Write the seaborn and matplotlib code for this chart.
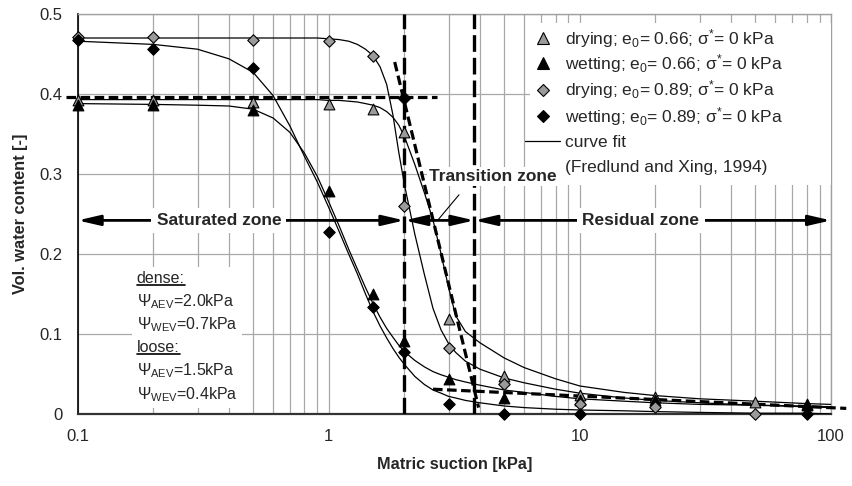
import numpy as np
import pandas as pd
import matplotlib
matplotlib.use("Agg")
import matplotlib.pyplot as plt
from matplotlib.lines import Line2D
from matplotlib.patches import Rectangle
import seaborn as sns

# ---- measured points (matric suction in kPa, volumetric water content) ----
suction = [0.1, 0.2, 0.5, 1, 1.5, 2, 3, 5, 10, 20, 50, 80]
drying_066 = [0.392, 0.392, 0.390, 0.387, 0.381, 0.352, 0.119, 0.047, 0.024, 0.021, 0.015, 0.012]
wetting_066 = [0.386, 0.386, 0.380, 0.279, 0.150, 0.091, 0.044, 0.020, 0.018, 0.018, np.nan, 0.011]
drying_089 = [0.471, 0.471, 0.4675, 0.466, 0.4475, 0.260, 0.083, 0.037, 0.013, 0.009, 0.0, np.nan]
wetting_089 = [0.467, 0.456, 0.432, 0.228, 0.134, 0.078, 0.013, 0.0, 0.0, np.nan, np.nan, 0.0]

# ---- Fredlund & Xing (1994) fitted curves ----
fit_suction = [0.1, 0.2, 0.3, 0.4, 0.5, 0.6, 0.7, 0.8, 0.9, 1.0, 1.1, 1.2, 1.3, 1.4,
               1.5, 1.6, 1.7, 1.8, 1.9, 2.0, 2.2, 2.4, 2.6, 2.8, 3.0, 3.2, 3.5, 4,
               5, 6, 8, 10, 15, 20, 30, 50, 80, 100]
fit_drying_066 = [0.393, 0.393, 0.393, 0.393, 0.393, 0.393, 0.393, 0.393, 0.393, 0.392,
                  0.392, 0.391, 0.390, 0.388, 0.386, 0.383, 0.378, 0.371, 0.361, 0.347,
                  0.312, 0.277, 0.2425, 0.200, 0.158, 0.123, 0.103, 0.089, 0.070, 0.058,
                  0.044, 0.035, 0.027, 0.023, 0.019, 0.016, 0.013, 0.012]
fit_wetting_066 = [0.388, 0.387, 0.386, 0.385, 0.381, 0.370, 0.352, 0.326, 0.297, 0.265,
                   0.235, 0.206, 0.181, 0.158, 0.138, 0.121, 0.107, 0.096, 0.086, 0.078,
                   0.067, 0.059, 0.053, 0.049, 0.046, 0.043, 0.040, 0.036, 0.030, 0.027,
                   0.022, 0.019, 0.016, 0.014, 0.012, 0.011, 0.010, 0.009]
fit_drying_089 = [0.470, 0.470, 0.470, 0.470, 0.470, 0.470, 0.470, 0.470, 0.470, 0.469,
                  0.468, 0.466, 0.462, 0.456, 0.448, 0.434, 0.412, 0.374, 0.327, 0.287,
                  0.225, 0.175, 0.132, 0.105, 0.088, 0.077, 0.066, 0.056, 0.045, 0.039,
                  0.031, 0.026, 0.020, 0.017, 0.014, 0.011, 0.009, 0.008]
fit_wetting_089 = [0.466, 0.462, 0.456, 0.444, 0.427, 0.398, 0.360, 0.322, 0.290, 0.258,
                   0.228, 0.200, 0.175, 0.150, 0.128, 0.110, 0.095, 0.082, 0.071, 0.062,
                   0.047, 0.037, 0.030, 0.026, 0.022, 0.020, 0.017, 0.014, 0.010, 0.008,
                   0.006, 0.005, 0.004, 0.003, 0.002, 0.001, 0.001, 0.0]

# ---- graphical construction (AEV / residual lines, zone limits) ----
aev_x = [0.09, 2.7]
aev_y = [0.396, 0.396]
tangent_x = [1.83, 3.95]
tangent_y = [0.440, 0.008]
residual_x = [2.6, 115]
residual_y = [0.031, 0.007]
aev_point = (2.0, 0.395)
zone_limits = [2.0, 3.8]
zone_arrow_level = 0.242

legend_labels = [
    "drying; e$_0$= 0.66; σ$^{*}$= 0 kPa",
    "wetting; e$_0$= 0.66; σ$^{*}$= 0 kPa",
    "drying; e$_0$= 0.89; σ$^{*}$= 0 kPa",
    "wetting; e$_0$= 0.89; σ$^{*}$= 0 kPa",
    "curve fit",
    "(Fredlund and Xing, 1994)",
]
param_lines = ["dense:", "Ψ$_{\\mathrm{AEV}}$=2.0kPa", "Ψ$_{\\mathrm{WEV}}$=0.7kPa",
               "loose:", "Ψ$_{\\mathrm{AEV}}$=1.5kPa", "Ψ$_{\\mathrm{WEV}}$=0.4kPa"]
param_levels = [0.175, 0.146, 0.1175, 0.089, 0.059, 0.030]

sns.set_style("white")
plt.rcParams["font.family"] = ["Liberation Sans", "DejaVu Sans"]
plt.rcParams["mathtext.fontset"] = "custom"
plt.rcParams["mathtext.rm"] = "Liberation Sans"
plt.rcParams["mathtext.it"] = "Liberation Sans:italic"
plt.rcParams["mathtext.bf"] = "Liberation Sans:bold"

GRAY = "#9a9a9a"
GRID = "#a8a8a8"
FS_TEXT = 12.5
FS_TICK = 12
FS_LABEL = 11.8
FS_PARAM = 11.5
W, H = 853, 486

fig = plt.figure(figsize=(W / 100, H / 100), dpi=100)
AX_L, AX_R, AX_T, AX_B = 77.7, 831.0, 14.0, 414.0
ax = fig.add_axes([AX_L / W, 1 - AX_B / H, (AX_R - AX_L) / W, (AX_B - AX_T) / H])
ax.set_xscale("log")
ax.set_xlim(0.1, 100)
ax.set_ylim(0, 0.5)


def px(xp, yp):
    """Pixel position inside the figure -> axes fraction."""
    return (xp - AX_L) / (AX_R - AX_L), (AX_B - yp) / (AX_B - AX_T)


# grid
ax.set_yticks([0, 0.1, 0.2, 0.3, 0.4, 0.5])
ax.set_yticklabels(["0", "0.1", "0.2", "0.3", "0.4", "0.5"])
ax.set_xticks([0.1, 1, 10, 100])
ax.set_xticklabels(["0.1", "1", "10", "100"])
ax.xaxis.set_minor_locator(matplotlib.ticker.LogLocator(base=10, subs=np.arange(2, 10)))
ax.xaxis.set_minor_formatter(matplotlib.ticker.NullFormatter())
ax.grid(True, which="both", axis="x", color=GRID, lw=0.9, zorder=0)
ax.grid(True, which="major", axis="y", color=GRID, lw=0.9, zorder=0)
ax.set_axisbelow(True)
ax.tick_params(axis="both", which="major", direction="out", length=5, width=1,
               color="k", labelsize=FS_TICK, pad=6)
ax.tick_params(axis="x", which="minor", length=0)
for side in ("top", "right"):
    ax.spines[side].set_color("#a0a0a0")
    ax.spines[side].set_linewidth(1)
ax.spines["left"].set_color("k")
ax.spines["left"].set_linewidth(1.2)
ax.spines["bottom"].set_color("#333333")
ax.spines["bottom"].set_linewidth(1.6)

# fitted curves
for ys in (fit_drying_066, fit_wetting_066, fit_drying_089, fit_wetting_089):
    sns.lineplot(x=fit_suction, y=ys, color="k", lw=0.9, estimator=None,
                 sort=False, ax=ax, zorder=3)

# construction lines
ax.plot(aev_x, aev_y, color="k", lw=2.3, dashes=(3, 1.4), zorder=4, clip_on=False)
ax.plot(tangent_x, tangent_y, color="k", lw=2.3, dashes=(3, 1.4), zorder=4)
ax.plot(residual_x, residual_y, color="k", lw=2.3, dashes=(3, 1.4), zorder=4, clip_on=False)
for xv in zone_limits:
    ax.plot([xv, xv], [0, 0.5], color="k", lw=2.4, dashes=(5, 1.8), zorder=4)
ax.plot([aev_point[0]], [aev_point[1]], marker="D", ms=6.5, color="k", zorder=6)

# measured points
series = [
    (drying_066, "^", GRAY, 60),
    (wetting_066, "^", "k", 60),
    (drying_089, "D", GRAY, 34),
    (wetting_089, "D", "k", 34),
]
for vals, mk, col, size in series:
    df = pd.DataFrame({"s": suction, "w": vals}).dropna()
    sns.scatterplot(data=df, x="s", y="w", marker=mk, color=col, edgecolor="k",
                    linewidth=0.8, s=size, ax=ax, zorder=7, clip_on=False)

# zone arrows
arrow_kw = dict(arrowstyle="<|-|>,head_length=0.95,head_width=0.22", lw=2,
                color="k", shrinkA=0, shrinkB=0, mutation_scale=14)
bounds = [0.1, zone_limits[0], zone_limits[1], 100]
for a, b in zip(bounds[:-1], bounds[1:]):
    ax.annotate("", xy=(b, zone_arrow_level), xytext=(a, zone_arrow_level),
                arrowprops=arrow_kw, zorder=5, annotation_clip=False)

box = dict(boxstyle="square,pad=0.3", fc="white", ec="none")
ax.text(0.365, zone_arrow_level, "Saturated zone", fontsize=FS_TEXT, fontweight="bold",
        ha="center", va="center", bbox=box, zorder=6)
ax.text(17.5, zone_arrow_level, "Residual zone", fontsize=FS_TEXT, fontweight="bold",
        ha="center", va="center", bbox=box, zorder=6)
ax.text(4.5, 0.297, "Transition zone", fontsize=FS_TEXT, fontweight="bold",
        ha="center", va="center", bbox=dict(boxstyle="square,pad=0.12", fc="white", ec="none"),
        zorder=10)
ax.plot([2.72, 3.3], [0.2425, 0.274], color="k", lw=0.8, zorder=6)

# parameter box
param_texts = []
for label, yv in zip(param_lines, param_levels):
    t = ax.text(0.172, yv - 0.011, label, fontsize=FS_PARAM, ha="left", va="baseline", zorder=6)
    param_texts.append(t)

# legend panel (white block in the upper right corner)
lx0, ly0 = px(530, 185)
lx1, ly1 = px(831, 23)
ax.add_patch(Rectangle((lx0, ly0), lx1 - lx0, ly1 - ly0, transform=ax.transAxes,
                       fc="white", ec="none", zorder=8))
legend_rows = [38.5, 63.5, 90.0, 116.5, 141.5, 166.5]
legend_markers = [("^", GRAY, 8.5), ("^", "k", 8.5), ("D", GRAY, 6.5), ("D", "k", 6.5)]
for row, (mk, col, ms) in zip(legend_rows, legend_markers):
    mx, my = px(543, row)
    ax.plot([mx], [my], marker=mk, ls="none", mfc=col, mec="k", mew=0.8, ms=ms,
            transform=ax.transAxes, zorder=9, clip_on=False)
(sx0, sy), (sx1, _) = px(525, legend_rows[4]), px(560, legend_rows[4])
ax.plot([sx0, sx1], [sy, sy], color="k", lw=0.9, transform=ax.transAxes, zorder=9)
for row, label in zip(legend_rows, legend_labels):
    tx, ty = px(565, row + 5.5)
    ax.text(tx, ty, label, fontsize=FS_TEXT, ha="left", va="baseline",
            transform=ax.transAxes, zorder=9)

ax.set_xlabel("Matric suction [kPa]", fontsize=FS_LABEL, fontweight="bold", labelpad=9)
ax.set_ylabel("Vol. water content [-]", fontsize=FS_LABEL, fontweight="bold", labelpad=8)

# white panel behind the parameter text, and underlines for the headings
fig.canvas.draw()
renderer = fig.canvas.get_renderer()
inv = ax.transAxes.inverted()
boxes = [t.get_window_extent(renderer) for t in param_texts]
x0 = min(b.x0 for b in boxes) - 5
x1 = max(b.x1 for b in boxes) + 5
y0 = min(b.y0 for b in boxes) - 4
y1 = max(b.y1 for b in boxes) + 4
(ax0, ay0), (ax1, ay1) = inv.transform([(x0, y0), (x1, y1)])
ax.add_patch(Rectangle((ax0, ay0), ax1 - ax0, ay1 - ay0, transform=ax.transAxes,
                       fc="white", ec="none", zorder=5))
for idx in (0, 3):
    b = boxes[idx]
    fig.add_artist(Line2D([b.x0 / W, b.x1 / W], [(b.y0 + 1) / H, (b.y0 + 1) / H],
                          color="k", lw=1.2))

fig.savefig("out.png", dpi=100)
